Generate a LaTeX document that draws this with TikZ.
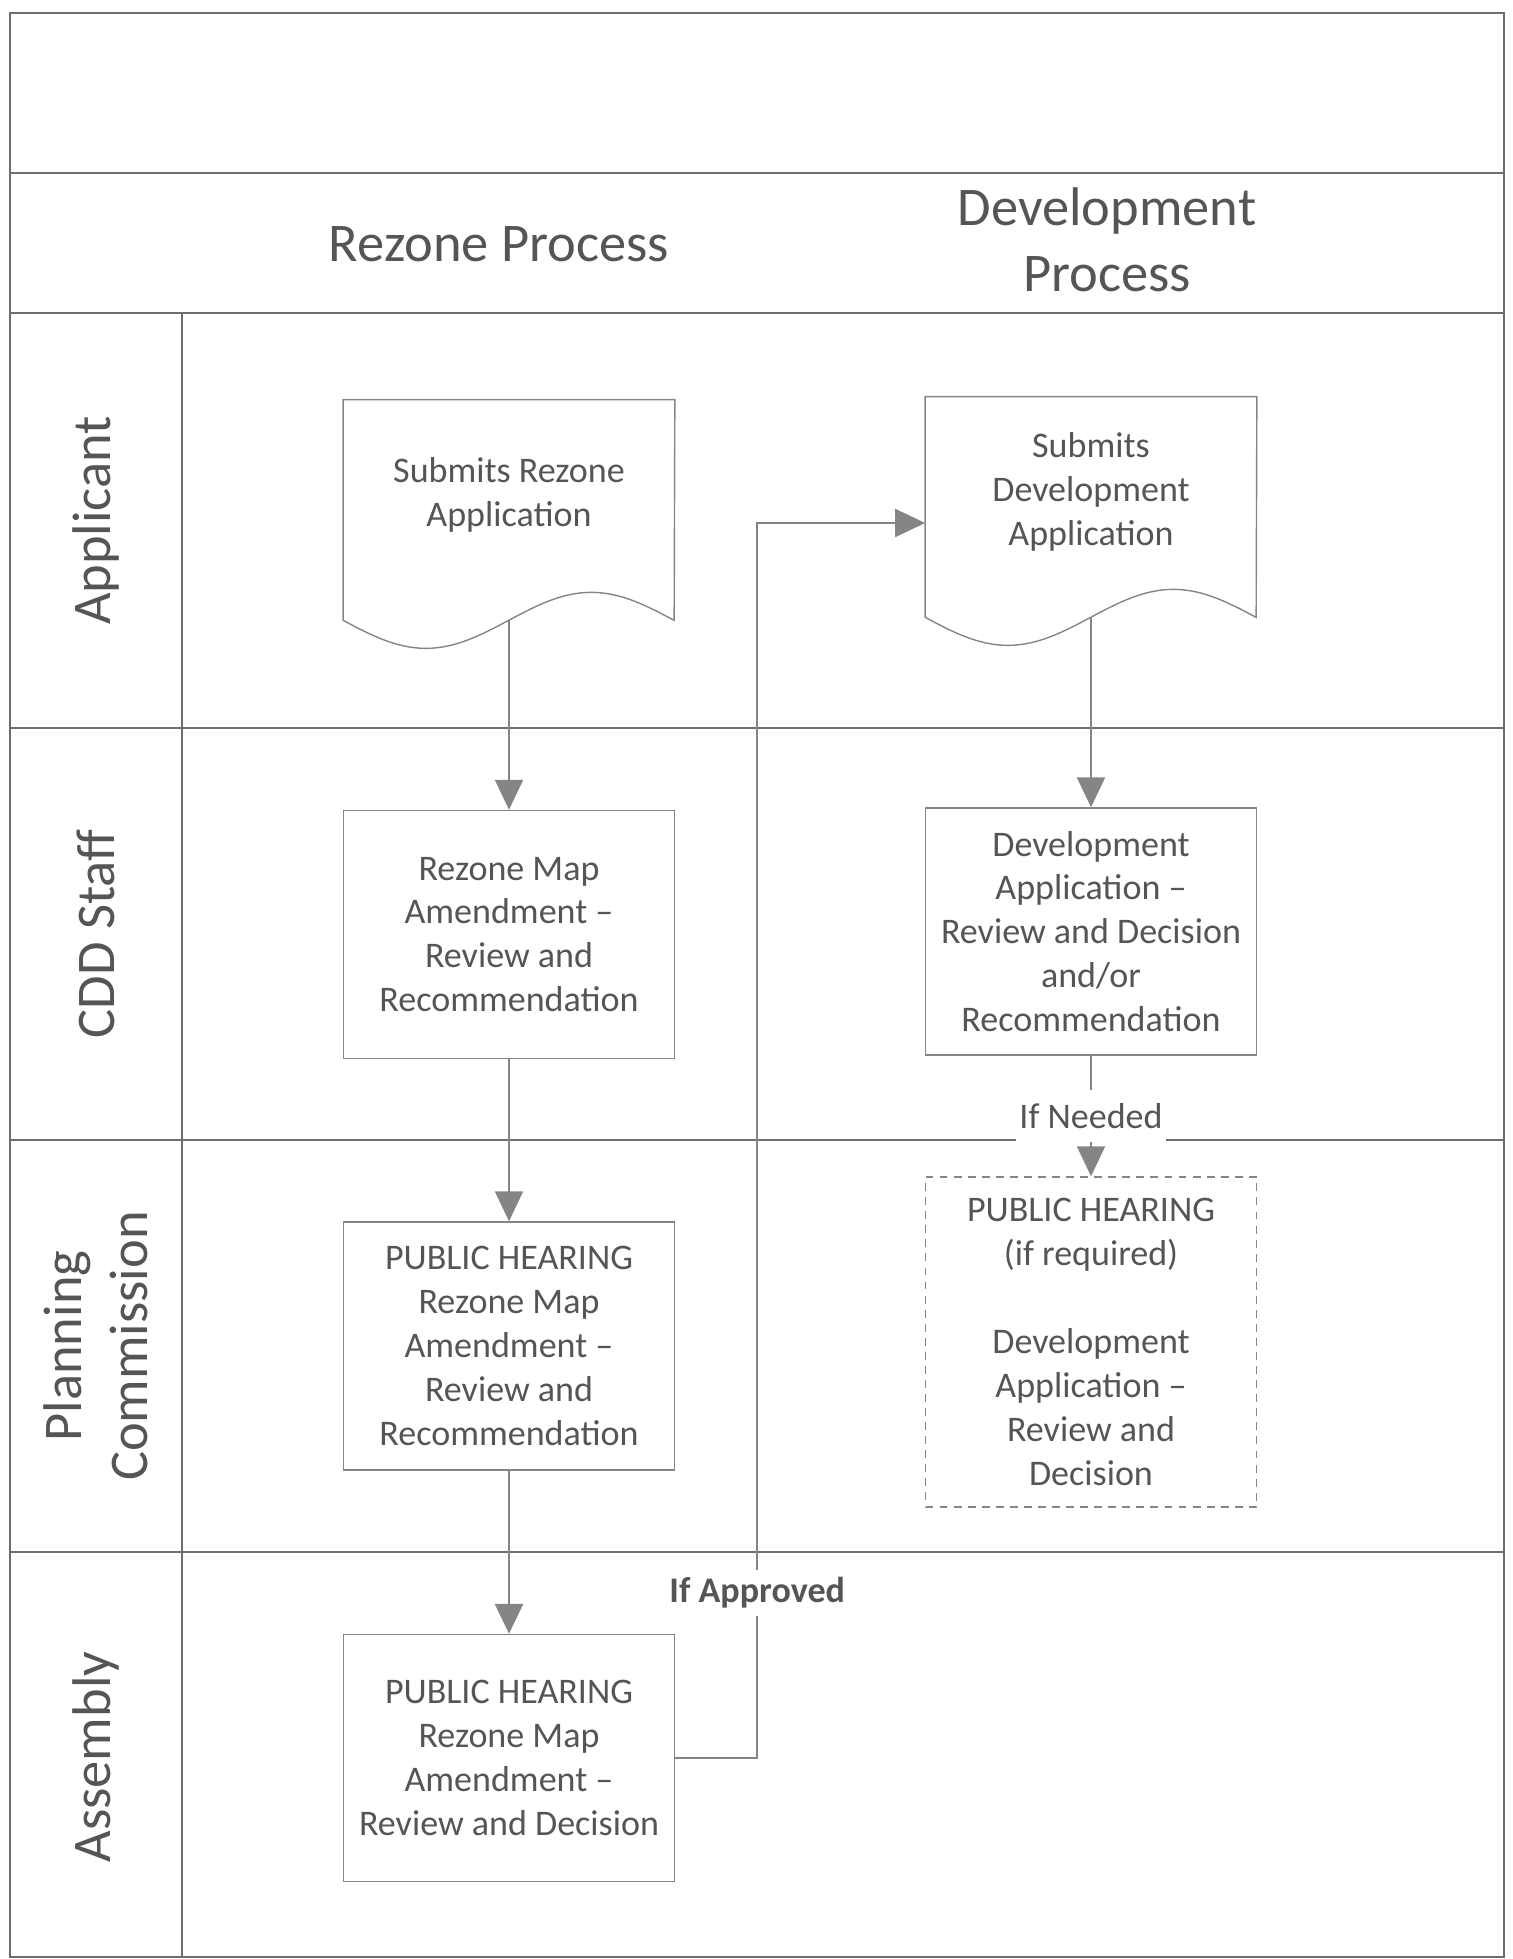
\documentclass[tikz,border=0pt]{standalone}
\usepackage{fontspec}
\setmainfont{Carlito}
\usetikzlibrary{arrows.meta}
\definecolor{ink}{HTML}{555555}
\definecolor{rule}{HTML}{6E6E6E}
\definecolor{edge}{HTML}{858585}
\tikzstyle{lane} = [line width=1pt, draw=rule]
\tikzstyle{doc} = [rectangle, minimum width=6.62cm, minimum height=3.8cm, text centered, align=center, text=ink, font=\fontsize{20.5}{25}\selectfont]
\tikzstyle{docline} = [line width=0.8pt, draw=edge]
\tikzstyle{process} = [rectangle, minimum width=6.62cm, minimum height=4.96cm, text centered, align=center, draw=edge, line width=0.8pt, text=ink, font=\fontsize{20.5}{25}\selectfont]
\tikzstyle{optional} = [process, dash pattern=on 4.5pt off 3.5pt, minimum height=6.6cm]
\tikzstyle{heading} = [text=ink, align=center, font=\fontsize{31}{37.5}\selectfont]
\tikzstyle{lanelabel} = [heading, rotate=90]
\tikzstyle{cond} = [fill=white, inner sep=2pt, text=ink, font=\fontsize{20.5}{25}\selectfont]
\tikzstyle{arrow} = [line width=1.2pt, draw=edge, ->, >={Triangle[width=0.56cm,length=0.6cm]}]
\begin{document}
\begin{tikzpicture}[node distance=2cm]
\useasboundingbox (0,0) rectangle (30.24,-39.18);
% lanes
\draw [lane] (0.2,-0.26) rectangle (30.08,-39.14);
\draw [lane] (0.2,-3.46) -- (30.08,-3.46);
\draw [lane] (0.2,-6.26) -- (30.08,-6.26);
\draw [lane] (0.2,-14.56) -- (30.08,-14.56);
\draw [lane] (0.2,-22.8) -- (30.08,-22.8);
\draw [lane] (0.2,-31.04) -- (30.08,-31.04);
\draw [lane] (3.64,-6.26) -- (3.64,-39.14);

\node (rztitle) [heading] at (9.98,-4.88) {Rezone Process};
\node (devtitle) [heading] at (22.14,-4.8) {Development\\Process};

\node (applicant) [lanelabel] at (1.92,-10.41) {Applicant};
\node (staff) [lanelabel] at (1.92,-18.68) {CDD Staff};
\node (planning) [lanelabel] at (1.92,-26.92) {Planning\\Commission};
\node (assembly) [lanelabel] at (1.92,-35.14) {Assembly};

% rezone column
\node (rzdoc) [doc] at (10.18,-9.9) {Submits Rezone\\Application};
\node (rzmap) [process, below of=rzdoc, yshift=-6.79cm] {Rezone Map\\Amendment –\\Review and\\Recommendation};
\node (phpc) [process, below of=rzmap, yshift=-6.23cm] {PUBLIC HEARING\\Rezone Map\\Amendment –\\Review and\\Recommendation};
\node (asm) [process, below of=phpc, yshift=-6.24cm, minimum height=4.94cm] {PUBLIC HEARING\\Rezone Map\\Amendment –\\Review and Decision};

% development column
\node (devdoc) [doc, right of=rzdoc, xshift=9.64cm, yshift=0.06cm] {Submits\\Development\\Application};
\node (devrev) [process, below of=devdoc, yshift=-6.79cm, minimum height=4.94cm] {Development\\Application –\\Review and Decision\\and/or\\Recommendation};
\node (phdev) [optional, below of=devrev, yshift=-6.21cm] {PUBLIC HEARING\\(if required)\\[25pt]Development\\Application –\\Review and\\Decision};

\draw [docline] (rzdoc.north west) -- ([yshift=-0.6cm]rzdoc.south west) sin ++(1.655,-0.56) cos ++(1.655,0.56) sin ++(1.655,0.56) cos ++(1.655,-0.56) -- (rzdoc.north east) -- cycle;
\draw [docline] (devdoc.north west) -- ([yshift=-0.6cm]devdoc.south west) sin ++(1.655,-0.56) cos ++(1.655,0.56) sin ++(1.655,0.56) cos ++(1.655,-0.56) -- (devdoc.north east) -- cycle;

\draw [arrow] ([yshift=-0.6cm]rzdoc.south) -- (rzmap);
\draw [arrow] (rzmap) -- (phpc);
\draw [arrow, line width=1.6pt] (phpc) -- (asm);
\draw [arrow] ([yshift=-0.6cm]devdoc.south) -- (devrev);
\draw [arrow] (devrev) -- node[cond, minimum height=1.04cm] {If Needed} (phdev);
\draw [arrow] (asm.east) -- ++(1.64,0) |- node[cond, pos=0.067, minimum height=0.92cm, font=\fontsize{20.5}{25}\selectfont\bfseries] {If Approved} ([yshift=-0.62cm]devdoc.west);
\end{tikzpicture}
\end{document}
